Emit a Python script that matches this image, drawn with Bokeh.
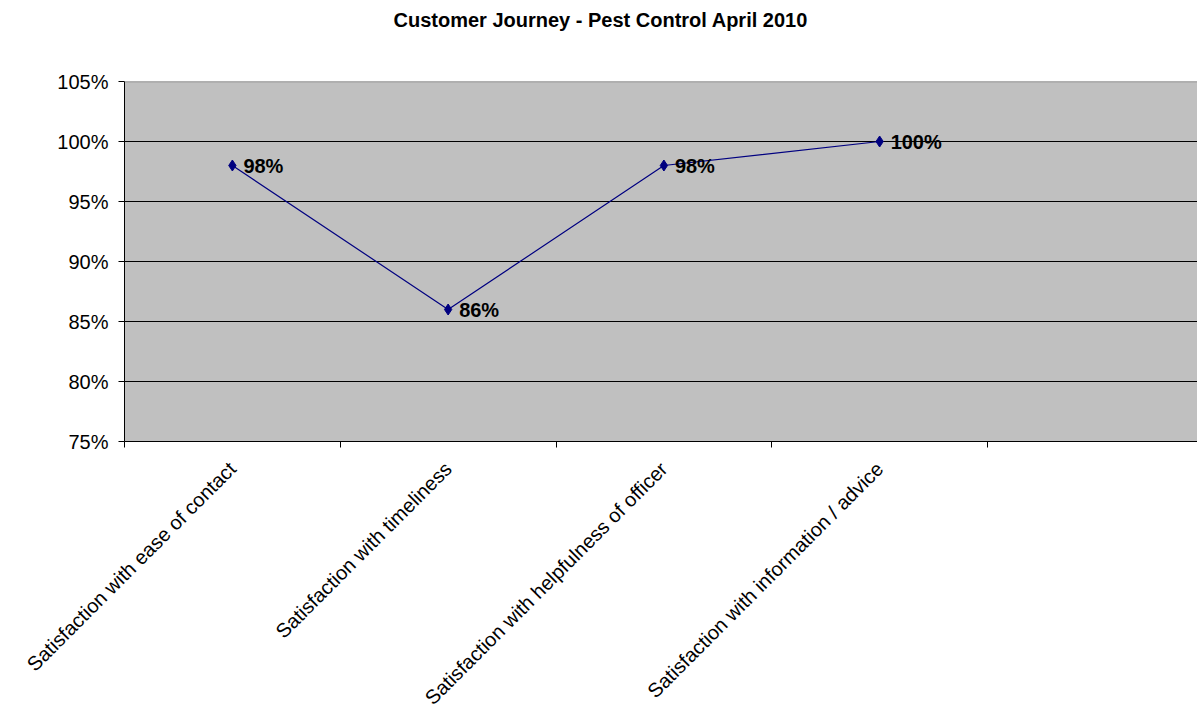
from bokeh.plotting import figure
from bokeh.models import Range1d, FixedTicker, Span, Title, ColumnDataSource, NumeralTickFormatter, LabelSet
from bokeh.core.properties import value
from bokeh.embed import file_html
from bokeh.resources import INLINE
import math

categories = ["Satisfaction with ease of contact", "Satisfaction with timeliness",
              "Satisfaction with helpfulness of officer", "Satisfaction with information / advice"]
values = [0.98, 0.86, 0.98, 1.00]
value_labels = ["98%", "86%", "98%", "100%"]
y_ticks = [0.75, 0.80, 0.85, 0.90, 0.95, 1.00, 1.05]
n_slots = 5

FONT = "Liberation Sans"
xs = [i + 0.5 for i in range(len(categories))]
src = ColumnDataSource(dict(x=xs, y=values, lab=value_labels))

slot_px = 215.75
frame_w = 1197 - 124
p = figure(width=1197, height=719, output_backend="svg", toolbar_location=None,
           x_range=Range1d(0, frame_w / slot_px), y_range=Range1d(0.75, 1.05),
           min_border_left=124, min_border_right=0, min_border_top=81, min_border_bottom=277)
p.background_fill_color = "#C0C0C0"
p.outline_line_color = None
p.border_fill_color = "white"

# spacer between title and plot area, then the title
p.add_layout(Title(text=" ", text_font_size="1px", standoff=46), "above")
p.add_layout(Title(text="Customer Journey - Pest Control April 2010", align="left", offset=269,
                   vertical_align="top",
                   text_font=FONT, text_font_size="20px", text_font_style="bold",
                   text_color="black", standoff=0), "above")

# x axis
xa = p.xaxis[0]
xa.ticker = FixedTicker(ticks=xs, minor_ticks=list(range(n_slots)))
xa.major_label_overrides = {x: c for x, c in zip(xs, categories)}
xa.major_label_orientation = math.pi / 4
xa.major_tick_out = 0
xa.major_tick_in = 0
xa.minor_tick_out = 6
xa.minor_tick_in = 0
xa.minor_tick_line_color = "black"
xa.axis_line_color = "black"
xa.major_label_text_font = FONT
xa.major_label_text_font_size = "20px"
xa.major_label_text_color = "black"
xa.major_label_standoff = 18

# y axis
ya = p.yaxis[0]
ya.ticker = FixedTicker(ticks=y_ticks)
ya.formatter = NumeralTickFormatter(format="0%")
ya.major_tick_out = 6
ya.major_tick_in = 0
ya.minor_tick_line_color = None
ya.axis_line_color = "black"
ya.major_tick_line_color = "black"
ya.major_label_text_font = FONT
ya.major_label_text_font_size = "20px"
ya.major_label_text_color = "black"
ya.major_label_standoff = 10

p.xgrid.visible = False
p.ygrid.ticker = FixedTicker(ticks=y_ticks[:-1])
p.ygrid.grid_line_color = "black"
p.ygrid.grid_line_width = 1
p.ygrid.grid_line_alpha = 1

p.add_layout(Span(location=1.05, dimension="width", line_color="#808080", line_width=1.5))

p.line("x", "y", source=src, line_color="#000080", line_width=1.2)
p.scatter("x", "y", source=src, marker="diamond", size=11, fill_color="#000080", line_color="#000080")
p.add_layout(LabelSet(x="x", y="y", text="lab", source=src, x_offset=11, y_offset=0,
                      text_baseline="middle", text_font=value(FONT), text_font_size=value("20px"),
                      text_font_style="bold", text_color="black"))

open("out.html", "w").write(file_html(p, INLINE))
